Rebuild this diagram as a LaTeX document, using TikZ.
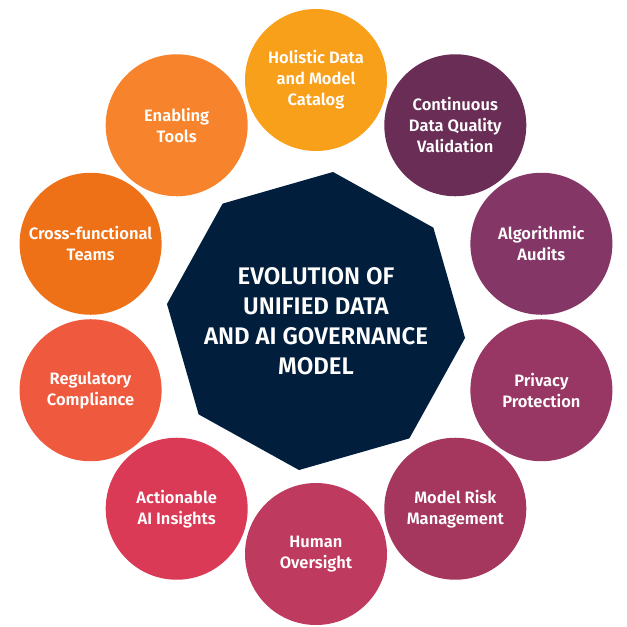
\documentclass[tikz,border=0pt]{standalone}
\usepackage{fontspec}
\setmainfont{Fira Sans}[BoldFont={* SemiBold}]
\usetikzlibrary{shapes.geometric}
\definecolor{cHolistic}{RGB}{249,160,27}
\definecolor{cContinuous}{RGB}{106,45,85}
\definecolor{cAlgorithmic}{RGB}{132,55,102}
\definecolor{cPrivacy}{RGB}{152,55,99}
\definecolor{cModelRisk}{RGB}{165,54,93}
\definecolor{cHuman}{RGB}{190,58,94}
\definecolor{cActionable}{RGB}{219,58,86}
\definecolor{cRegulatory}{RGB}{239,90,62}
\definecolor{cCross}{RGB}{238,113,23}
\definecolor{cEnabling}{RGB}{247,132,44}
\definecolor{cNavy}{RGB}{1,30,60}
\tikzset{
  bubble/.style={circle, minimum size=142pt, inner sep=0pt, text=white, align=center,
    font=\fontsize{16.5}{21}\selectfont\bfseries},
  hub/.style={regular polygon, regular polygon sides=8, shape border rotate=16,
    minimum size=300pt, inner sep=0pt, fill=cNavy},
  hubtext/.style={text=white, align=center, inner sep=0pt,
    font=\fontsize{24}{30}\selectfont\bfseries}
}
\begin{document}
\begin{tikzpicture}[x=1pt,y=1pt]
  %set diagram frame: 627 x 627
  \useasboundingbox (-316,-310) rectangle (311,317);
  %Shape: Octagon
  \node[hub] (hub) at (0,-4) {};
  % Text Node
  \node[hubtext] (title) at (hub.center) {EVOLUTION OF\\UNIFIED DATA\\AND AI GOVERNANCE\\MODEL};
  %Shape: Circle
  \node[bubble, fill=cHolistic] (holistic) at (90:237) {Holistic Data\\and Model\\Catalog};
  %Shape: Circle
  \node[bubble, fill=cContinuous] (continuous) at (54:237) {Continuous\\Data Quality\\Validation};
  %Shape: Circle
  \node[bubble, fill=cAlgorithmic] (algorithmic) at (18:237) {Algorithmic\\Audits};
  %Shape: Circle
  \node[bubble, fill=cPrivacy] (privacy) at (-18:237) {Privacy\\Protection};
  %Shape: Circle
  \node[bubble, fill=cModelRisk] (modelrisk) at (-54:237) {Model Risk\\Management};
  %Shape: Circle
  \node[bubble, fill=cHuman] (human) at (-90:237) {Human\\Oversight};
  %Shape: Circle
  \node[bubble, fill=cActionable] (actionable) at (-126:237) {Actionable\\AI Insights};
  %Shape: Circle
  \node[bubble, fill=cRegulatory] (regulatory) at (-162:237) {Regulatory\\Compliance};
  %Shape: Circle
  \node[bubble, fill=cCross] (cross) at (162:237) {Cross-functional\\Teams};
  %Shape: Circle
  \node[bubble, fill=cEnabling] (enabling) at (126:237) {Enabling\\Tools};
\end{tikzpicture}
\end{document}
